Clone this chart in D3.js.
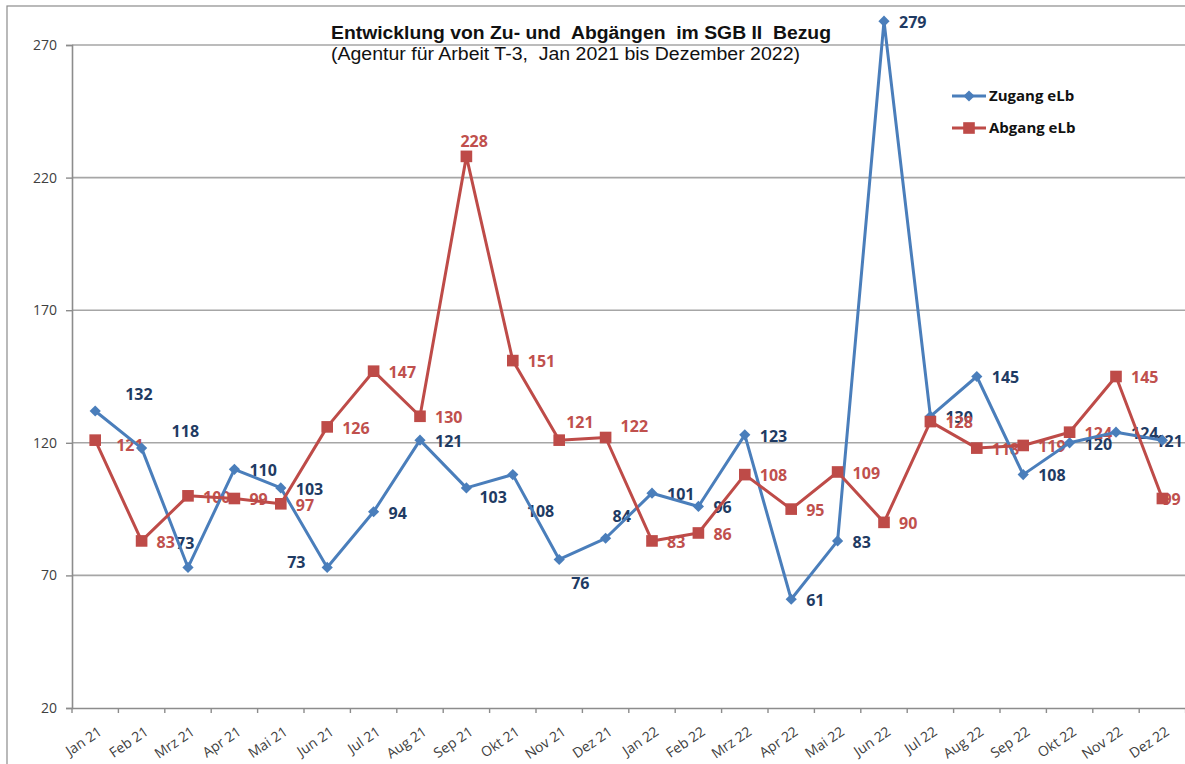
<!DOCTYPE html>
<html>
<head>
<meta charset="utf-8">
<script src="https://cdn.jsdelivr.net/npm/d3@7"></script>
<style>
  body { margin: 0; background: #fff; }
  svg { display: block; }
</style>
</head>
<body>
<script>
var months = ["Jan 21", "Feb 21", "Mrz 21", "Apr 21", "Mai 21", "Jun 21", "Jul 21", "Aug 21",
              "Sep 21", "Okt 21", "Nov 21", "Dez 21", "Jan 22", "Feb 22", "Mrz 22", "Apr 22",
              "Mai 22", "Jun 22", "Jul 22", "Aug 22", "Sep 22", "Okt 22", "Nov 22", "Dez 22"];
var zugang = [132, 118, 73, 110, 103, 73, 94, 121, 103, 108, 76, 84,
              101, 96, 123, 61, 83, 279, 130, 145, 108, 120, 124, 121];
var abgang = [121, 83, 100, 99, 97, 126, 147, 130, 228, 151, 121, 122,
              83, 86, 108, 95, 109, 90, 128, 118, 119, 124, 145, 99];
var yTicks = [20, 70, 120, 170, 220, 270];

var svg = d3.select("body").append("svg")
    .attr("width", 1185)
    .attr("height", 764);

var margin = {top: 45, left: 72, bottom: 56};
var width = 24 * 46.4,
    height = 764 - margin.top - margin.bottom;

var x = d3.scaleBand().domain(months).range([margin.left, margin.left + width]),
    y = d3.scaleLinear().domain([20, 270]).range([margin.top + height, margin.top]);

var blue = "#4a7ebb", red = "#be4b48";

// outer frame
svg.append("rect")
    .attr("x", 7).attr("y", 6)
    .attr("width", 1200).attr("height", 800)
    .attr("fill", "none")
    .attr("stroke", "#8c8c8c")
    .attr("stroke-width", 1.2);

// grid lines
svg.append("g")
    .selectAll("line")
    .data(yTicks.slice(1))
    .enter().append("line")
      .attr("x1", margin.left).attr("x2", margin.left + width)
      .attr("y1", function(d) { return y(d); })
      .attr("y2", function(d) { return y(d); })
      .attr("stroke", "#a6a6a6")
      .attr("stroke-width", 1.6);

// y axis
var yAxis = svg.append("g")
    .attr("transform", "translate(" + margin.left + ",0)")
    .call(d3.axisLeft(y).tickValues(yTicks).tickSize(6).tickPadding(9));
yAxis.select(".domain").attr("stroke", "#8c8c8c").attr("stroke-width", 1.6);
yAxis.selectAll(".tick line").attr("stroke", "#8c8c8c").attr("stroke-width", 1.4);
yAxis.selectAll(".tick text")
    .attr("fill", "#404040")
    .style("font", "14px 'Open Sans'");

// x axis
var xAxis = svg.append("g")
    .attr("transform", "translate(0," + y(20) + ")")
    .call(d3.axisBottom(x).tickSize(0).tickPadding(0));
xAxis.select(".domain").attr("stroke", "#8c8c8c").attr("stroke-width", 1.6);
xAxis.selectAll(".tick text")
    .attr("fill", "#404040")
    .style("font", "14px 'Open Sans'")
    .attr("text-anchor", "end")
    .attr("y", 0)
    .attr("dy", "0.35em")
    .attr("transform", "translate(5,22) rotate(-34)");

// x tick marks at category boundaries
xAxis.selectAll(".bound")
    .data(months.concat([null]))
    .enter().append("line")
      .attr("class", "bound")
      .attr("x1", function(d, i) { return margin.left + i * x.step(); })
      .attr("x2", function(d, i) { return margin.left + i * x.step(); })
      .attr("y1", 0).attr("y2", 5)
      .attr("stroke", "#8c8c8c")
      .attr("stroke-width", 1.4);

function cx(d, i) { return x(months[i]) + x.bandwidth() / 2; }

// data label nudges (dx, dy from the point)
var zNudge = {
  "Jan 21": [30, -17], "Feb 21": [30, -17], "Mrz 21": [-12, -24], "Jun 21": [-40, -5],
  "Sep 21": [13, 9], "Okt 21": [14, 37], "Nov 21": [12, 24], "Dez 21": [7, -22],
  "Dez 22": [-7, 1]
};
var aNudge = {
  "Jan 21": [21, 5], "Sep 21": [-6, -15], "Nov 21": [7, -18], "Dez 21": [15, -11],
  "Dez 22": [0, 1]
};

function labels(values, nudge, color) {
  svg.append("g")
    .selectAll("text")
    .data(values)
    .enter().append("text")
      .attr("x", function(d, i) { var n = nudge[months[i]]; return cx(d, i) + (n ? n[0] : 15); })
      .attr("y", function(d, i) { var n = nudge[months[i]]; return y(d) + (n ? n[1] : 1); })
      .attr("dy", "0.36em")
      .attr("fill", color)
      .style("font", "bold 16px 'Open Sans'")
      .text(function(d) { return d; });
}
labels(zugang, zNudge, "#1f3b63");
labels(abgang, aNudge, "#c0504d");

var line = d3.line()
    .x(cx)
    .y(function(d) { return y(d); });

svg.append("path")
    .datum(zugang)
    .attr("d", line)
    .attr("fill", "none")
    .attr("stroke", blue)
    .attr("stroke-width", 3)
    .attr("stroke-linejoin", "round");

svg.append("path")
    .datum(abgang)
    .attr("d", line)
    .attr("fill", "none")
    .attr("stroke", red)
    .attr("stroke-width", 3)
    .attr("stroke-linejoin", "round");

var diamond = d3.symbol().type(d3.symbolDiamond2).size(80);
var square = d3.symbol().type(d3.symbolSquare).size(135);

svg.append("g")
    .selectAll("path")
    .data(zugang)
    .enter().append("path")
      .attr("d", diamond)
      .attr("transform", function(d, i) { return "translate(" + cx(d, i) + "," + y(d) + ")"; })
      .attr("fill", blue);

svg.append("g")
    .selectAll("path")
    .data(abgang)
    .enter().append("path")
      .attr("d", square)
      .attr("transform", function(d, i) { return "translate(" + cx(d, i) + "," + y(d) + ")"; })
      .attr("fill", red);

// title
svg.append("text")
    .attr("x", 331).attr("y", 39)
    .style("font", "bold 17.5px 'Liberation Sans'")
    .attr("fill", "#111")
    .attr("xml:space", "preserve")
    .attr("textLength", 500)
    .attr("lengthAdjust", "spacingAndGlyphs")
    .text("Entwicklung von Zu- und  Abgängen  im SGB II  Bezug");
svg.append("text")
    .attr("x", 331).attr("y", 60)
    .style("font", "17.5px 'Liberation Sans'")
    .attr("fill", "#111")
    .attr("xml:space", "preserve")
    .attr("textLength", 469)
    .attr("lengthAdjust", "spacingAndGlyphs")
    .text("(Agentur für Arbeit T-3,  Jan 2021 bis Dezember 2022)");

// legend
var legend = svg.append("g").attr("transform", "translate(952,96)");
[["Zugang eLb", blue, diamond], ["Abgang eLb", red, square]].forEach(function(l, i) {
  var gl = legend.append("g").attr("transform", "translate(0," + (i * 32) + ")");
  gl.append("line").attr("x1", 0).attr("x2", 34)
      .attr("stroke", l[1]).attr("stroke-width", 3);
  gl.append("path").attr("d", l[2]).attr("transform", "translate(17,0)").attr("fill", l[1]);
  gl.append("text").attr("x", 37).attr("dy", "0.36em")
      .style("font", "bold 15px 'Open Sans'")
      .attr("fill", "#111")
      .text(l[0]);
});
</script>
</body>
</html>
